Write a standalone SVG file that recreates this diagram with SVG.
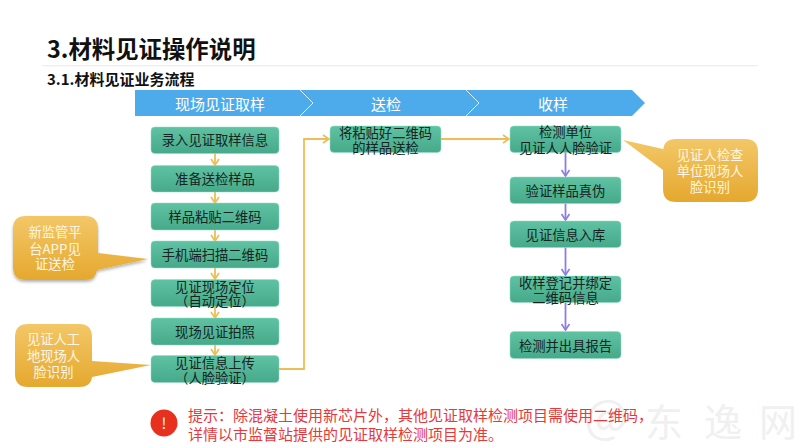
<svg xmlns="http://www.w3.org/2000/svg" width="800" height="448" viewBox="0 0 800 448">
<defs>
<linearGradient id="g" x1="0" y1="0" x2="0" y2="1"><stop offset="0" stop-color="#5fc3a3"/><stop offset="1" stop-color="#46a98a"/></linearGradient>
<linearGradient id="o" gradientUnits="objectBoundingBox" x1="0" y1="0" x2="0" y2="1"><stop offset="0" stop-color="#f3c768"/><stop offset="1" stop-color="#e5a82e"/></linearGradient>
<marker id="ay" markerUnits="userSpaceOnUse" viewBox="0 0 9 10" refX="8" refY="5" markerWidth="9" markerHeight="10" orient="auto"><path d="M2 1L8 5L2 9" fill="none" stroke="#efbd55" stroke-width="1.7"/></marker>
<marker id="ap" markerUnits="userSpaceOnUse" viewBox="0 0 9 10" refX="8" refY="5" markerWidth="9" markerHeight="10" orient="auto"><path d="M2 1L8 5L2 9" fill="none" stroke="#8f7ee2" stroke-width="1.7"/></marker>
<filter id="sh" x="-10%" y="-10%" width="120%" height="125%"><feDropShadow dx="0" dy="2" stdDeviation="1.5" flood-color="#000" flood-opacity="0.3"/></filter>
</defs>
<style>
text{font-family:"Noto Sans CJK SC","Liberation Sans",sans-serif;text-anchor:middle}
.b{fill:url(#g);stroke:#8fdcc4;stroke-width:0.5}
.n{font-size:13.3px;fill:#14241f}
.h{font-size:15px;fill:#fff}
.c{font-size:13.3px;fill:#fdf6e3}
.co{fill:url(#o)}
.y{fill:none;stroke:#efbd55;stroke-width:1.8;marker-end:url(#ay)}
.p{fill:none;stroke:#8f7ee2;stroke-width:1.8;marker-end:url(#ap)}
.ch{fill:none;stroke:#fff;stroke-width:0.8}
.r{font-size:15px;fill:#e8383a;text-anchor:start}
.t{font-weight:700;fill:#111;text-anchor:start}
.w{fill:#f0f0f0;font-family:"Noto Sans CJK SC",sans-serif}
</style>
<rect width="800" height="448" fill="#fff"/>
<g id="watermark">
<text class="w" x="606" y="433" font-size="46">@</text>
<text class="w" x="664" y="436" font-size="38">东</text>
<text class="w" x="723" y="436" font-size="38">逸</text>
<text class="w" x="778" y="436" font-size="38">网</text>
</g>
<g id="title">
<text class="t" x="47" y="57.500" font-size="23.4">3.材料见证操作说明</text>
<rect x="42" y="65" width="716" height="1.4" fill="#efefef"/>
<text class="t" x="47" y="84.500" font-size="15">3.1.材料见证业务流程</text>
</g>
<g id="band">
<path d="M135 90H632L645 103L632 116H135Z" fill="#4dabeb"/>
<path class="ch" d="M300 90L313 103L300 116M466 90L479 103L466 116"/>
<text class="h" x="220" y="110">现场见证取样</text>
<text class="h" x="386" y="110">送检</text>
<text class="h" x="553" y="110">收样</text>
</g>
<g id="connectors">
<path class="y" d="M215 153.500V165"/>
<path class="y" d="M215 192V203"/>
<path class="y" d="M215 230V241"/>
<path class="y" d="M215 268V279"/>
<path class="y" d="M215 306V318"/>
<path class="y" d="M215 345V355"/>
<path class="y" d="M279 369H304V139H329"/>
<path class="y" d="M441 139H509"/>
<path class="p" d="M565.500 152V176"/>
<path class="p" d="M565.500 203.500V220"/>
<path class="p" d="M565.500 247.500V275"/>
<path class="p" d="M565.500 302.500V330"/>
</g>
<g id="n1"><rect class="b" x="151" y="127" width="128" height="26.500" rx="4"/><text class="n" x="215" y="145">录入见证取样信息</text></g>
<g id="n2"><rect class="b" x="151" y="165.500" width="128" height="26.500" rx="4"/><text class="n" x="215" y="184">准备送检样品</text></g>
<g id="n3"><rect class="b" x="151" y="203" width="128" height="27" rx="4"/><text class="n" x="215" y="222">样品粘贴二维码</text></g>
<g id="n4"><rect class="b" x="151" y="241" width="128" height="27" rx="4"/><text class="n" x="215" y="260">手机端扫描二维码</text></g>
<g id="n5"><rect class="b" x="151" y="279.500" width="128" height="27" rx="4"/><text class="n"><tspan x="215" y="291.500">见证现场定位</tspan><tspan x="215" y="306">（自动定位）</tspan></text></g>
<g id="n6"><rect class="b" x="151" y="318" width="128" height="27" rx="4"/><text class="n" x="215" y="337">现场见证拍照</text></g>
<g id="n7"><rect class="b" x="151" y="355.500" width="128" height="27" rx="4"/><text class="n"><tspan x="215" y="367.500">见证信息上传</tspan><tspan x="215" y="382.500">（人脸验证）</tspan></text></g>
<g id="n8"><rect class="b" x="330" y="126" width="111" height="26.500" rx="4"/><text class="n"><tspan x="385.500" y="137.500">将粘贴好二维码</tspan><tspan x="385.500" y="152.500">的样品送检</tspan></text></g>
<g id="n9"><rect class="b" x="510" y="126" width="111" height="26.500" rx="4"/><text class="n"><tspan x="565.500" y="137">检测单位</tspan><tspan x="565.500" y="153">见证人人脸验证</tspan></text></g>
<g id="n10"><rect class="b" x="510" y="177" width="111" height="26.500" rx="4"/><text class="n" x="565.500" y="196">验证样品真伪</text></g>
<g id="n11"><rect class="b" x="510" y="221" width="111" height="26.500" rx="4"/><text class="n" x="565.500" y="240">见证信息入库</text></g>
<g id="n12"><rect class="b" x="510" y="276" width="111" height="26.500" rx="4"/><text class="n"><tspan x="565.500" y="288">收样登记并绑定</tspan><tspan x="565.500" y="303">二维码信息</tspan></text></g>
<g id="n13"><rect class="b" x="510" y="331.500" width="111" height="27" rx="4"/><text class="n" x="565.500" y="351">检测并出具报告</text></g>
<g id="callout1"><path class="co" filter="url(#sh)" d="M26 216H85Q98 216 98 229V253L148 259L97 270Q96 280 85 280H26Q13 280 13 267V229Q13 216 26 216Z"/><text class="c"><tspan x="55" y="236.500">新监管平</tspan><tspan x="55" y="253.500">台APP见</tspan><tspan x="55" y="269">证送检</tspan></text></g>
<g id="callout2"><path class="co" d="M28 324H79Q92 324 92 337V361L151 365L92 377Q91 387 79 387H28Q15 387 15 374V337Q15 324 28 324Z"/><text class="c"><tspan x="53.500" y="344">见证人工</tspan><tspan x="53.500" y="361">地现场人</tspan><tspan x="53.500" y="377">脸识别</tspan></text></g>
<g id="callout3"><path class="co" d="M676 139H745Q758 139 758 152V189Q758 202 745 202H676Q663 202 663 189V170L623 140L663 149V152Q663 139 676 139Z"/><text class="c"><tspan x="710" y="160">见证人检查</tspan><tspan x="710" y="176">单位现场人</tspan><tspan x="710" y="192">脸识别</tspan></text></g>
<g id="note">
<circle cx="164" cy="423" r="13.500" fill="#e8301f"/>
<text x="164" y="429" font-size="15" fill="#fff">!</text>
<text class="r"><tspan x="188" y="421">提示：除混凝土使用新芯片外，其他见证取样检测项目需使用二维码，</tspan><tspan x="188" y="440">详情以市监督站提供的见证取样检测项目为准。</tspan></text>
</g>
</svg>
